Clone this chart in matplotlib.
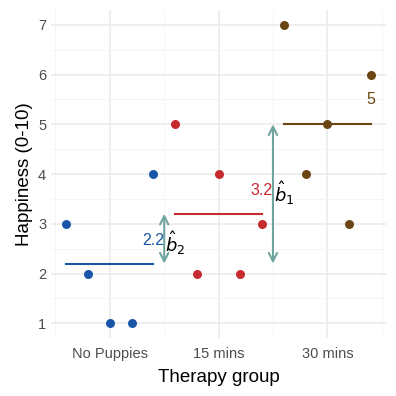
import matplotlib.pyplot as plt
import numpy as np

# Datos
groups = ["No Puppies", "15 mins", "30 mins"]
happiness = [
    [3, 2, 1, 1, 4],
    [5, 2, 4, 2, 3],
    [7, 4, 5, 3, 6],
]
means = [2.2, 3.2, 5.0]
offsets = [-0.4, -0.2, 0.0, 0.2, 0.4]
colors = ["#1a56a8", "#c62a2f", "#6b4513"]
arrow_color = "#6fa59e"

plt.rcParams.update({
    "font.family": ["Liberation Sans", "DejaVu Sans"],
    "mathtext.fontset": "dejavusans",
})

fig = plt.figure(figsize=(3.96, 3.96), dpi=100)
ax = fig.add_axes([0.129, 0.146, 0.846, 0.829])

# Puntos y medias
for i, (vals, m, c) in enumerate(zip(happiness, means, colors)):
    xs = [i + 1 + o for o in offsets]
    ax.scatter(xs, vals, s=42, color=c, zorder=3, linewidths=0)
    ax.plot([xs[0], xs[-1]], [m, m], color=c, lw=1.5, zorder=2)

# Flechas de diferencia
ax.annotate("", xy=(1.5, means[1]), xytext=(1.5, means[0]),
            arrowprops=dict(arrowstyle="<->", color=arrow_color, lw=1.5,
                            shrinkA=0, shrinkB=0, mutation_scale=15))
ax.annotate("", xy=(2.5, means[2]), xytext=(2.5, means[0]),
            arrowprops=dict(arrowstyle="<->", color=arrow_color, lw=1.5,
                            shrinkA=0, shrinkB=0, mutation_scale=15))

# Etiquetas
ax.text(1.5, 2.67, f"{means[0]:.1f}", color=colors[0], ha="right", va="center", fontsize=11.5)
ax.text(1.51, 2.62, r"$\hat{b}_2$", color="black", ha="left", va="center", fontsize=13)
ax.text(2.5, 3.67, f"{means[1]:.1f}", color=colors[1], ha="right", va="center", fontsize=11.5)
ax.text(2.51, 3.62, r"$\hat{b}_1$", color="black", ha="left", va="center", fontsize=13)
ax.text(3.4, 5.5, f"{means[2]:.0f}", color=colors[2], ha="center", va="center", fontsize=11.5)

# Ejes y estilo minimal
ax.set_xlim(0.46, 3.54)
ax.set_ylim(0.7, 7.3)
ax.set_xticks([1, 2, 3])
ax.set_xticklabels(groups)
ax.set_xticks([0.5, 1.5, 2.5, 3.5], minor=True)
ax.set_yticks(range(1, 8))
ax.set_yticks(np.arange(1.5, 7, 1), minor=True)
ax.grid(True, which="major", color="#ebebeb", lw=1.2)
ax.grid(True, which="minor", color="#f4f4f4", lw=0.6)
ax.set_axisbelow(True)
for s in ax.spines.values():
    s.set_visible(False)
ax.tick_params(which="both", length=0, colors="#4d4d4d", labelsize=10.5)
ax.tick_params(axis="x", pad=6)

ax.set_xlabel("Therapy group", fontsize=13.5, labelpad=6)
ax.set_ylabel("Happiness (0-10)", fontsize=13.5, labelpad=4)

plt.savefig("out.png", dpi=100)
